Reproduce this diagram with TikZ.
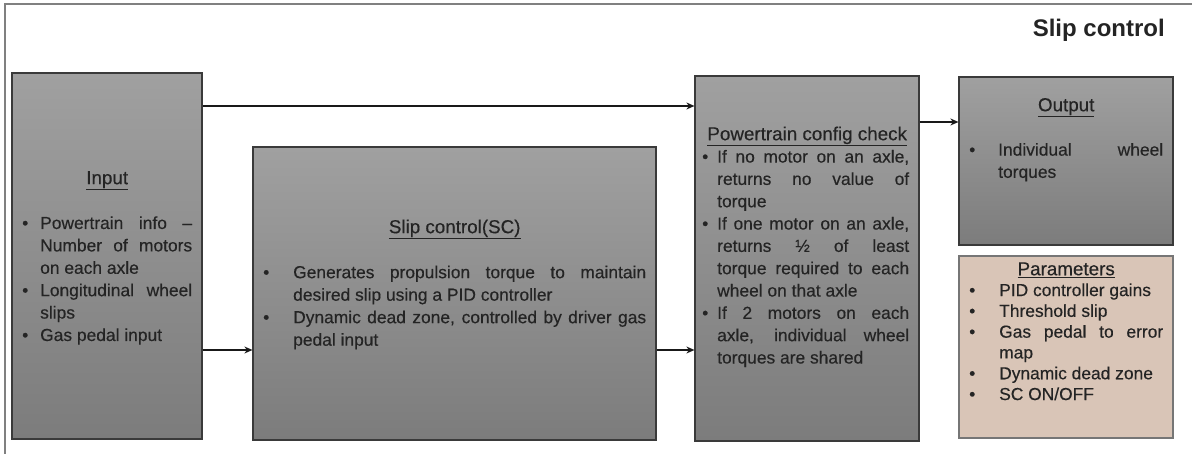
\documentclass[tikz,border=0pt]{standalone}
\usepackage{fontspec}
\setmainfont{Liberation Sans}
\newfontfamily\bodyfont{Liberation Sans}[FakeBold=0.35]
\usetikzlibrary{arrows.meta}

\definecolor{boxtop}{RGB}{160,160,160}
\definecolor{boxbot}{RGB}{124,124,124}
\definecolor{boxedge}{RGB}{58,58,58}
\definecolor{parfill}{RGB}{217,197,183}
\definecolor{paredge}{RGB}{118,118,118}
\definecolor{ink}{RGB}{36,36,36}
\definecolor{framegray}{RGB}{128,128,128}

% one line of a text block; \txo = text indent, \txw = text width, \txbw = block width
\newcommand\LT[1]{\hbox to \txbw pt{\strut\hss{\fontsize{18.8}{20}\selectfont\underline{#1}}\hss}}
\newcommand\LE{\hbox{\strut}}
\newcommand\LBJ[1]{\hbox{\strut\makebox[\txo pt][l]{\textbullet}\makebox[\txw pt][s]{#1}}}
\newcommand\LBL[1]{\hbox{\strut\makebox[\txo pt][l]{\textbullet}#1}}
\newcommand\LJ[1]{\hbox{\strut\kern\txo pt\makebox[\txw pt][s]{#1}}}
\newcommand\LL[1]{\hbox{\strut\kern\txo pt#1}}
\newcommand\blocktext[2]{\vbox{\bodyfont\fontsize{17.4}{#1}\selectfont #2}}

\tikzset{
  blockbox/.style={rectangle, draw=boxedge, line width=1.2pt, top color=boxtop, bottom color=boxbot, inner sep=0pt},
  parambox/.style={rectangle, draw=paredge, line width=1.2pt, fill=parfill, inner sep=0pt},
  txt/.style={inner sep=0pt, text=ink, anchor=north west},
  arr/.style={draw=black!90, line width=2pt, -{Stealth[length=8pt,width=7pt]}},
}

\begin{document}
\begin{tikzpicture}[x=1pt, y=-1pt]
\useasboundingbox (0,0) rectangle (1192,454);
\fill[white] (0,0) rectangle (1192,454);

% slide frame
\draw[framegray, line width=1.5pt] (1192,4) -- (5,4) -- (5,454);

\node[text=ink, font=\fontsize{24}{28}\selectfont\bfseries, anchor=base east, inner sep=0pt] (title) at (1165,37) {Slip control};

% blocks
\node[blockbox, minimum width=190pt, minimum height=366pt] (input) at (107,256) {};
\node[blockbox, minimum width=403pt, minimum height=293pt] (sc) at (454.5,293.5) {};
\node[blockbox, minimum width=224pt, minimum height=365pt] (pcc) at (807,258.5) {};
\node[blockbox, minimum width=214pt, minimum height=168pt] (output) at (1066,161) {};
\node[parambox, minimum width=214pt, minimum height=182pt] (params) at (1066,347) {};

% block texts
\node[txt] (inputtxt) at (22,168.3) {\def\txo{18}\def\txw{152}\def\txbw{170}%
\blocktext{22.4pt}{
\LT{Input}
\LE
\LBJ{Powertrain info –}
\LJ{Number of motors}
\LL{on each axle}
\LBJ{Longitudinal wheel}
\LL{slips}
\LBL{Gas pedal input}
}};

\node[txt] (sctxt) at (263,217.25) {\def\txo{30}\def\txw{353}\def\txbw{383}%
\blocktext{22.5pt}{
\LT{Slip control(SC)}
\LE
\LBJ{Generates propulsion torque to maintain}
\LL{desired slip using a PID controller}
\LBJ{Dynamic dead zone, controlled by driver gas}
\LL{pedal input}
}};

\node[txt] (pcctxt) at (702,124.4) {\def\txo{15}\def\txw{192}\def\txbw{210}%
\blocktext{22.33pt}{
\LT{Powertrain config check}
\LBJ{If no motor on an axle,}
\LJ{returns no value of}
\LL{torque}
\LBJ{If one motor on an axle,}
\LJ{returns ½ of least}
\LJ{torque required to each}
\LL{wheel on that axle}
\LBJ{If 2 motors on each}
\LJ{axle, individual wheel}
\LL{torques are shared}
}};

\node[txt] (outputtxt) at (969,95.5) {\def\txo{29}\def\txw{165}\def\txbw{194}%
\blocktext{22.2pt}{
\LT{Output}
\LE
\LBJ{Individual wheel}
\LL{torques}
}};

\node[txt] (paramstxt) at (969,260.5) {\def\txo{30}\def\txw{164}\def\txbw{194}%
\blocktext{20.8pt}{
\LT{Parameters}
\LBL{PID controller gains}
\LBL{Threshold slip}
\LBJ{Gas pedal to error}
\LL{map}
\LBL{Dynamic dead zone}
\LBL{SC ON/OFF}
}};

% connectors
\coordinate (ytop) at (0,106);
\coordinate (ymid) at (0,350);
\coordinate (yout) at (0,122);
\draw[arr] (input.east |- ytop) -- (pcc.west |- ytop);
\draw[arr] (input.east |- ymid) -- (sc.west |- ymid);
\draw[arr] (sc.east |- ymid) -- (pcc.west |- ymid);
\draw[arr] (pcc.east |- yout) -- (output.west |- yout);
\end{tikzpicture}
\end{document}
